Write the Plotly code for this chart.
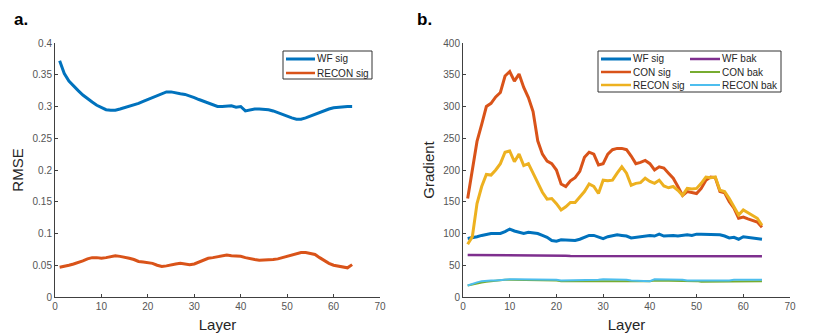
import plotly.graph_objects as go

W, H = 830, 335

layers = list(range(1, 65))

# ---- panel a: RMSE ----
rmse_wf_sig = [0.372, 0.352, 0.340, 0.332, 0.325, 0.318, 0.312, 0.307, 0.302, 0.298,
               0.295, 0.294, 0.294, 0.296, 0.298, 0.300, 0.303, 0.305, 0.308, 0.311,
               0.314, 0.317, 0.320, 0.323, 0.323, 0.321, 0.320, 0.319, 0.317, 0.314,
               0.311, 0.308, 0.305, 0.302, 0.300, 0.300, 0.300, 0.301, 0.299, 0.300,
               0.293, 0.295, 0.296, 0.296, 0.296, 0.295, 0.293, 0.290, 0.287, 0.284,
               0.282, 0.280, 0.280, 0.282, 0.285, 0.288, 0.291, 0.294, 0.296, 0.298,
               0.299, 0.300, 0.300, 0.300]
rmse_recon_sig = [0.047, 0.048, 0.050, 0.052, 0.054, 0.057, 0.060, 0.062, 0.062, 0.061,
                  0.062, 0.064, 0.065, 0.064, 0.063, 0.061, 0.059, 0.056, 0.055, 0.054,
                  0.053, 0.050, 0.048, 0.049, 0.051, 0.052, 0.053, 0.052, 0.051, 0.052,
                  0.055, 0.058, 0.061, 0.062, 0.063, 0.065, 0.066, 0.065, 0.065, 0.064,
                  0.062, 0.060, 0.059, 0.058, 0.058, 0.058, 0.059, 0.060, 0.062, 0.064,
                  0.067, 0.069, 0.070, 0.070, 0.069, 0.067, 0.062, 0.057, 0.053, 0.050,
                  0.049, 0.047, 0.046, 0.051]

# ---- panel b: Gradient ----
grad_wf_sig = [92, 93, 95, 97, 99, 100, 100, 100, 103, 107,
               104, 102, 100, 102, 101, 100, 97, 94, 89, 88,
               90, 90, 89, 89, 91, 94, 97, 97, 95, 92,
               95, 97, 98, 97, 96, 93, 94, 96, 97, 97,
               96, 99, 96, 97, 97, 96, 97, 98, 97, 99,
               99, 99, 99, 98, 98, 96, 93, 94, 91, 95,
               94, 93, 92, 91]
grad_con_sig = [155, 197, 245, 272, 300, 305, 315, 322, 348, 355,
                340, 351, 330, 314, 292, 246, 225, 214, 210, 200,
                178, 174, 183, 188, 198, 220, 228, 225, 208, 210,
                225, 232, 234, 234, 232, 222, 210, 212, 215, 210,
                200, 205, 203, 195, 187, 174, 160, 166, 165, 163,
                171, 184, 189, 188, 166, 164, 150, 140, 124, 126,
                123, 121, 118, 110]
grad_recon_sig = [83, 95, 147, 174, 193, 192, 200, 210, 228, 230,
                  213, 225, 207, 210, 195, 180, 165, 154, 155, 147,
                  137, 142, 149, 149, 158, 166, 178, 174, 163, 184,
                  183, 184, 195, 205, 195, 176, 179, 180, 187, 182,
                  179, 184, 175, 172, 174, 168, 160, 171, 170, 171,
                  179, 189, 188, 189, 168, 166, 155, 142, 129, 137,
                  133, 129, 124, 113]
grad_wf_bak = [66, 66, 66, 65.5, 65.5, 65.5, 65.5, 66, 65.5, 65.5,
               65.5, 65, 65, 65, 65, 65, 65, 65, 65, 65,
               65, 65, 64.5, 64.5, 64.5, 64.5, 64.5, 64.5, 65, 65,
               65, 64.5, 64.5, 65, 64.5, 64, 64.5, 64.5, 64.5, 64.5,
               65, 65, 65, 64.5, 65, 65, 64.5, 64.5, 64.5, 64.5,
               64.5, 64, 64, 64, 64, 64.5, 64.5, 64.5, 64, 64.5,
               64.5, 64, 64, 64]
grad_con_bak = [18, 20, 22, 23, 24, 25, 26, 26, 27, 27,
                27, 27, 27, 27, 27, 27, 27, 26, 26, 26,
                25, 25, 25, 25, 25, 25, 25, 25, 24, 24,
                24, 24, 24, 24, 25, 25, 25, 25, 25, 25,
                26, 26, 26, 26, 25, 25, 25, 25, 25, 25,
                24, 24, 25, 25, 25, 25, 25, 24, 24, 24,
                24, 24, 25, 25]
grad_recon_bak = [18, 21, 23, 25, 26, 26, 26, 27, 27, 28,
                  28, 28, 28, 28, 28, 28, 27, 27, 27, 27,
                  26, 26, 26, 26, 26, 26, 27, 27, 27, 28,
                  28, 28, 27, 27, 27, 26, 26, 26, 26, 25,
                  28, 28, 28, 27, 27, 27, 27, 26, 26, 26,
                  26, 25, 25, 26, 26, 26, 26, 27, 27, 28,
                  28, 27, 27, 27]

C_BLUE, C_RED, C_YEL = "#0072BD", "#D95319", "#EDB120"
C_PUR, C_GRN, C_CYA = "#7E2F8E", "#77AC30", "#4DBEEE"

def px(x):
    return x / W

def py(y):
    return 1 - y / H

fig = go.Figure()

def add(x, y, color, width, name, xa, ya):
    fig.add_trace(go.Scatter(x=x, y=y, mode="lines", name=name,
                             line=dict(color=color, width=width),
                             xaxis=xa, yaxis=ya, showlegend=False))

add(layers, rmse_wf_sig, C_BLUE, 3, "WF sig", "x", "y")
add(layers, rmse_recon_sig, C_RED, 3, "RECON sig", "x", "y")

add(layers, grad_wf_bak, C_PUR, 2.5, "WF bak", "x2", "y2")
add(layers, grad_con_bak, C_GRN, 2, "CON bak", "x2", "y2")
add(layers, grad_recon_bak, C_CYA, 2, "RECON bak", "x2", "y2")
add(layers, grad_wf_sig, C_BLUE, 3, "WF sig", "x2", "y2")
add(layers, grad_con_sig, C_RED, 3, "CON sig", "x2", "y2")
add(layers, grad_recon_sig, C_YEL, 3, "RECON sig", "x2", "y2")

FONT = "Liberation Sans, Arial, sans-serif"
axcol = "#404040"
tickfont = dict(family=FONT, size=10, color="#555555")
titlefont = dict(family=FONT, size=15, color="#262626")

common_x = dict(range=[0, 70], dtick=10, tick0=0, showline=True, linecolor=axcol,
                linewidth=1, ticks="inside", ticklen=3, tickcolor=axcol,
                showgrid=False, zeroline=False, tickfont=tickfont, automargin=False,
                title=dict(text="Layer", font=titlefont, standoff=8))
common_y = dict(showline=True, linecolor=axcol, linewidth=1, ticks="inside",
                ticklen=3, tickcolor=axcol, showgrid=False, zeroline=False,
                tickfont=tickfont, automargin=False)

xd1 = [px(55), px(380)]
xd2 = [px(463), px(790)]
yd = [py(297), py(43)]

fig.update_layout(
    width=W, height=H,
    margin=dict(l=0, r=0, t=0, b=0),
    paper_bgcolor="white", plot_bgcolor="white",
    xaxis=dict(common_x, domain=xd1, anchor="y"),
    yaxis=dict(common_y, domain=yd, anchor="x", range=[0, 0.4], dtick=0.05, tick0=0,
               title=dict(text="RMSE", font=titlefont, standoff=5)),
    xaxis2=dict(common_x, domain=xd2, anchor="y2"),
    yaxis2=dict(common_y, domain=yd, anchor="x2", range=[0, 400], dtick=50, tick0=0,
                title=dict(text="Gradient", font=titlefont, standoff=5)),
    showlegend=False,
)

shapes = []
annotations = []

# panel labels
annotations.append(dict(text="<b>a.</b>", x=px(12), y=py(20), xref="paper", yref="paper",
                        xanchor="left", yanchor="middle", showarrow=False,
                        font=dict(family=FONT, size=17, color="black")))
annotations.append(dict(text="<b>b.</b>", x=px(415), y=py(20), xref="paper", yref="paper",
                        xanchor="left", yanchor="middle", showarrow=False,
                        font=dict(family=FONT, size=17, color="black")))

legfont = dict(family=FONT, size=10, color="#262626")

def legend_box(x0, y0, x1, y1):
    shapes.append(dict(type="rect", xref="paper", yref="paper",
                       x0=px(x0), x1=px(x1), y0=py(y1), y1=py(y0),
                       line=dict(color="#333333", width=1), fillcolor="white", layer="above"))

def legend_item(xl, y, color, width, text, linelen=30):
    shapes.append(dict(type="line", xref="paper", yref="paper",
                       x0=px(xl), x1=px(xl + linelen), y0=py(y), y1=py(y),
                       line=dict(color=color, width=width), layer="above"))
    annotations.append(dict(text=text, x=px(xl + linelen), y=py(y), xref="paper",
                            yref="paper", xanchor="left", yanchor="middle",
                            showarrow=False, font=legfont))

# legend a
legend_box(283, 51, 372, 79)
legend_item(286, 59, C_BLUE, 3, "WF sig", 29)
legend_item(286, 73, C_RED, 2.5, "RECON sig", 29)

# legend b
legend_box(598, 51, 781, 92)
legend_item(601, 59, C_BLUE, 3, "WF sig")
legend_item(601, 72, C_RED, 2.5, "CON sig")
legend_item(601, 85, C_YEL, 2.5, "RECON sig")
legend_item(690, 59, C_PUR, 2.5, "WF bak")
legend_item(690, 72, C_GRN, 2, "CON bak")
legend_item(690, 85, C_CYA, 2, "RECON bak")

fig.update_layout(shapes=shapes, annotations=annotations)

fig.write_html("out.html", config={"displayModeBar": False},
               post_script="document.body.style.margin='0';document.body.style.padding='0';")
